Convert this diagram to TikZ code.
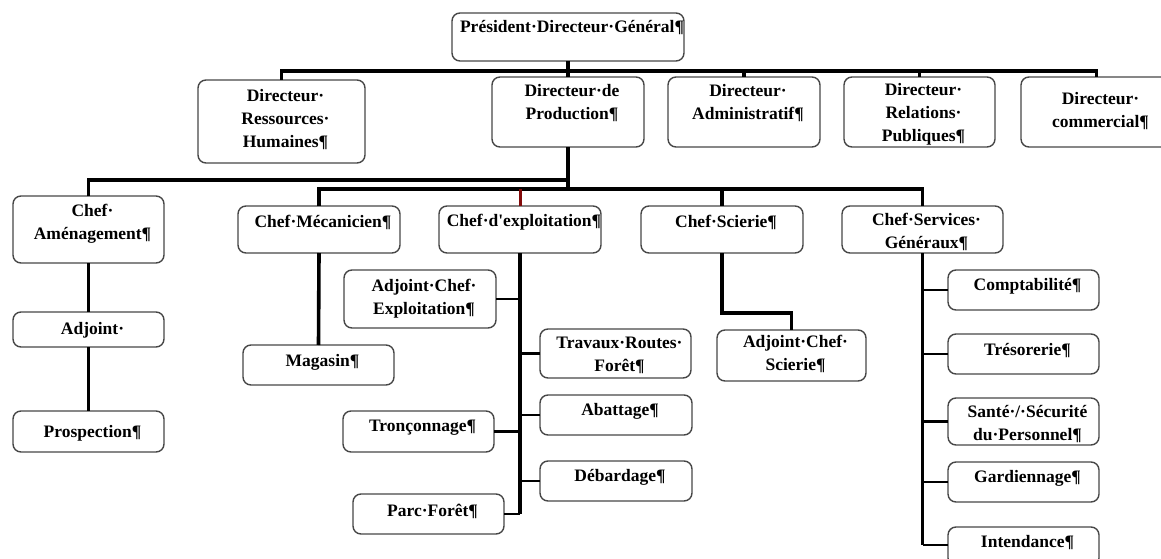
\documentclass[tikz,border=0pt]{standalone}
\usepackage{fontspec}
\setmainfont{Liberation Serif}
\definecolor{tickred}{RGB}{130,10,10}
\tikzset{
  box/.style={draw=black!72, line width=1.4pt, rounded corners=8pt, fill=white, inner sep=0pt, outer sep=0pt},
  txt/.style={align=center, inner sep=0pt, outer sep=0pt},
  conn/.style={line width=3.6pt, black},
  branch/.style={line width=2.8pt, black},
}
% name, x1, y1, x2, y2, text centre y, text
\newcommand\obox[7]{%
  \pgfmathsetmacro\bw{#4-#2}\pgfmathsetmacro\bh{#5-#3}%
  \node[box, minimum width=\bw pt, minimum height=\bh pt] (#1) at ({(#2+#4)/2},{(#3+#5)/2}) {};%
  \node[txt] (#1-t) at ({(#2+#4)/2+4},#6) {#7};}
\begin{document}
\begin{tikzpicture}[x=1pt,y=-1pt,font=\bfseries\fontsize{17.5}{23}\selectfont]
\useasboundingbox (0,0) rectangle (1161,559);
\clip (0,0) rectangle (1161,559);
\coordinate (busA) at (0,71);
\coordinate (busB) at (0,180);
\coordinate (busC) at (0,189);
% ---------- boxes ----------
\obox{pdg}{452}{13}{684}{61}{28}{Président·Directeur·Général¶}
\obox{drh}{198}{80}{365}{163}{120}{Directeur·\\Ressources·\\Humaines¶}
\obox{dp}{492}{77}{644}{147}{103.5}{Directeur·de\\Production¶}
\obox{da}{668}{77}{820}{147}{103.5}{Directeur·\\Administratif¶}
\obox{drp}{844}{77}{995}{147}{114.5}{Directeur·\\Relations·\\Publiques¶}
\obox{dc}{1021}{77}{1172}{147}{111}{Directeur·\\commercial¶}
%
\obox{cam}{13}{196}{164}{263}{223.5}{Chef·\\Aménagement¶}
\obox{cmec}{238}{206}{400}{253}{222}{Chef·Mécanicien¶}
\obox{cex}{439}{206}{601}{253}{222}{Chef·d\textquotesingle exploitation¶}
\obox{csc}{641}{206}{803}{253}{222}{Chef·Scierie¶}
\obox{csg}{842}{206}{1003}{253}{232}{Chef·Services·\\Généraux¶}
%
\obox{adj}{13}{312}{164}{347}{330}{Adjoint·}
\obox{prosp}{13}{411}{164}{452}{433}{Prospection¶}
\obox{mag}{243}{345}{394}{385}{362}{Magasin¶}
%
\obox{ace}{344}{270}{496}{328}{298.5}{Adjoint·Chef·\\Exploitation¶}
\obox{trf}{540}{329}{691}{378}{355}{Travaux·Routes·\\Forêt¶}
\obox{abt}{540}{395}{692}{435}{411}{Abattage¶}
\obox{tron}{343}{411}{494}{452}{428}{Tronçonnage¶}
\obox{deb}{540}{461}{692}{501}{477}{Débardage¶}
\obox{pf}{353}{494}{504}{534}{511}{Parc·Forêt¶}
%
\obox{acs}{717}{330}{866}{381}{354}{Adjoint·Chef·\\Scierie¶}
%
\obox{cpt}{948}{270}{1099}{310}{286}{Comptabilité¶}
\obox{tre}{948}{334}{1099}{374}{351}{Trésorerie¶}
\obox{san}{948}{398}{1099}{445}{424}{Santé·/·Sécurité\\du·Personnel¶}
\obox{gar}{948}{462}{1099}{502}{478}{Gardiennage¶}
\obox{int}{948}{527}{1099}{566}{543}{Intendance¶}
% ---------- connectors ----------
% top level
\draw[conn] (pdg.south) -- (pdg.south |- busA);
\draw[conn] (drh.north) |- (dc.north |- busA) -- (dc.north);
\draw[conn] (dp.north |- busA) -- (dp.north);
\draw[conn] (da.north |- busA) -- (da.north);
\draw[conn] (drp.north |- busA) -- (drp.north);
% production
\draw[conn] (dp.south) -- (dp.south |- busC);
\draw[conn] (cam.north) |- (dp.south |- busB);
\draw[conn] (cmec.north) |- (csg.north |- busC) -- (csg.north);
\draw[conn] (csc.north |- busC) -- (csc.north);
\draw[line width=3pt, tickred] (cex.north |- busC) -- (cex.north);
% amenagement chain
\draw[conn] (cam.south) -- (adj.north);
\draw[conn] (adj.south) -- (prosp.north);
% mecanicien
\draw[conn] (cmec.south) -- (mag.north);
% exploitation
\draw[conn] (cex.south) -- (cex.south |- pf.east);
\draw[branch] (ace.east) -- (ace.east -| cex.south);
\draw[branch] (trf.west) -- (trf.west -| cex.south);
\draw[branch] (abt.west) -- (abt.west -| cex.south);
\draw[branch] (tron.east) -- (tron.east -| cex.south);
\draw[branch] (deb.west) -- (deb.west -| cex.south);
\draw[branch] (pf.east) -- (pf.east -| cex.south);
% scierie
\coordinate (scj) at (722,313);
\draw[conn] (csc.south) -- (csc.south |- scj) -| (acs.north);
% services generaux
\coordinate (sgend) at (922,545);
\draw[conn] (csg.south) -- (csg.south |- sgend);
\draw[branch] (cpt.west) -- (cpt.west -| csg.south);
\draw[branch] (tre.west) -- (tre.west -| csg.south);
\draw[branch] (san.west) -- (san.west -| csg.south);
\draw[branch] (gar.west) -- (gar.west -| csg.south);
\draw[branch] (int.west |- sgend) -- (csg.south |- sgend);
\end{tikzpicture}
\end{document}
